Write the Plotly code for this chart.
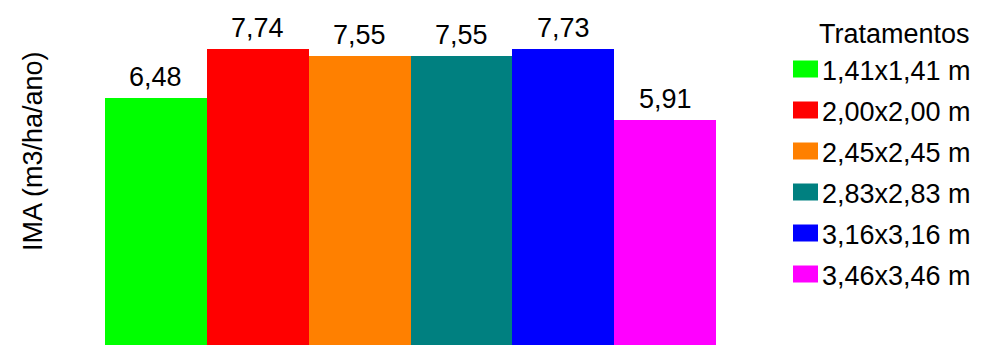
import plotly.graph_objects as go

W, H = 984, 345

tratamentos = ["1,41x1,41 m", "2,00x2,00 m", "2,45x2,45 m",
               "2,83x2,83 m", "3,16x3,16 m", "3,46x3,46 m"]
ima = [6.48, 7.74, 7.55, 7.55, 7.73, 5.91]
cores = ["#00FF00", "#FF0000", "#FF8000", "#008080", "#0000FF", "#FF00FF"]

FONT = "Liberation Sans, Arial, sans-serif"
FS = 27
TXT = "#000000"

fig = go.Figure()
annotations = []
for i, (nome, v, c) in enumerate(zip(tratamentos, ima, cores)):
    fig.add_trace(go.Bar(
        x=[i], y=[v], name=nome, marker=dict(color=c, line=dict(width=0)),
        width=1, showlegend=False,
    ))
    annotations.append(dict(x=i, y=v, xref="x", yref="y",
                            text=f"{v:.2f}".replace(".", ","), showarrow=False,
                            xanchor="center", yanchor="bottom", yshift=4,
                            font=dict(size=FS, color=TXT, family=FONT)))

def px(x):
    return x / W

def py(y):
    return 1 - y / H

shapes = []
# custom legend
annotations.append(dict(x=px(894), y=py(34), xref="paper", yref="paper",
                        text="Tratamentos", showarrow=False, xanchor="center",
                        yanchor="middle", font=dict(size=FS, color=TXT, family=FONT)))
for i, (nome, c) in enumerate(zip(tratamentos, cores)):
    cy = 71 + 41 * i
    shapes.append(dict(type="rect", xref="paper", yref="paper",
                       x0=px(793), x1=px(818), y0=py(cy - 10.5), y1=py(cy + 6.5),
                       fillcolor=c, line=dict(width=0)))
    annotations.append(dict(x=px(820), y=py(cy), xref="paper", yref="paper",
                            text=nome, showarrow=False, xanchor="left", yanchor="middle",
                            font=dict(size=FS, color=TXT, family=FONT)))
# y axis title
annotations.append(dict(x=px(33), y=py(151), xref="paper", yref="paper",
                        text="IMA (m3/ha/ano)", showarrow=False, textangle=-90,
                        xanchor="center", yanchor="middle",
                        font=dict(size=FS, color=TXT, family=FONT)))

fig.update_layout(
    width=W, height=H,
    margin=dict(l=0, r=0, t=0, b=0),
    paper_bgcolor="white", plot_bgcolor="white",
    barmode="overlay", bargap=0,
    showlegend=False,
    xaxis=dict(domain=[105 / W, 716 / W], range=[-0.5, 5.5], visible=False),
    yaxis=dict(domain=[0, 1], range=[0.113, 9.005], visible=False),
    shapes=shapes, annotations=annotations,
    font=dict(family=FONT),
)

fig.write_html("out.html")
